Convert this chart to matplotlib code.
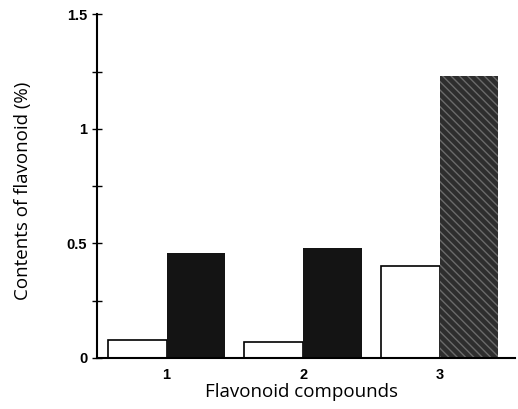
import matplotlib
matplotlib.use("Agg")
import matplotlib.pyplot as plt
import numpy as np

compounds = ["1", "2", "3"]
light_vals = [0.08, 0.07, 0.40]
dark_vals = [0.46, 0.48, 1.23]
dark_colors = ["#141414", "#141414", "#2e2e2e"]

fig = plt.figure(figsize=(5.18, 4.09), dpi=100)
ax = fig.add_axes([0.187, 0.125, 0.807, 0.84])

x = np.arange(1, len(compounds) + 1)
w = 0.43

ax.bar(x - w / 2, light_vals, w, color="white", edgecolor="black", linewidth=1.2)
bars = ax.bar(x + w / 2, dark_vals, w, color=dark_colors, linewidth=0)
bars[2].set_hatch("\\\\\\\\")
bars[2].set_edgecolor("#6a6a6a")

ax.set_xlim(0.49, 3.55)
ax.set_ylim(0, 1.5)

ax.spines["top"].set_visible(False)
ax.spines["right"].set_visible(False)
ax.spines["left"].set_linewidth(1.5)
ax.spines["bottom"].set_linewidth(1.5)

ax.set_xticks(x)
ax.set_xticklabels(compounds, fontfamily="Liberation Sans", fontweight="bold", fontsize=10.5)
ax.tick_params(axis="x", length=0, pad=7)

ax.set_yticks([0, 0.5, 1, 1.5])
ax.set_yticklabels(["0", "0.5", "1", "1.5"], fontfamily="Liberation Sans",
                   fontweight="bold", fontsize=10.5)
ax.set_yticks([0.25, 0.75, 1.25], minor=True)
ax.tick_params(axis="y", which="both", direction="inout", length=7, width=1)

ax.set_xlabel("Flavonoid compounds", fontfamily="Open Sans", fontsize=13.5)
ax.set_ylabel("Contents of flavonoid (%)", fontfamily="Open Sans", fontsize=13.5)
ax.xaxis.set_label_coords(0.489, -0.073)
ax.yaxis.set_label_coords(-0.155, 0.486)

fig.savefig("out.png", dpi=100)
